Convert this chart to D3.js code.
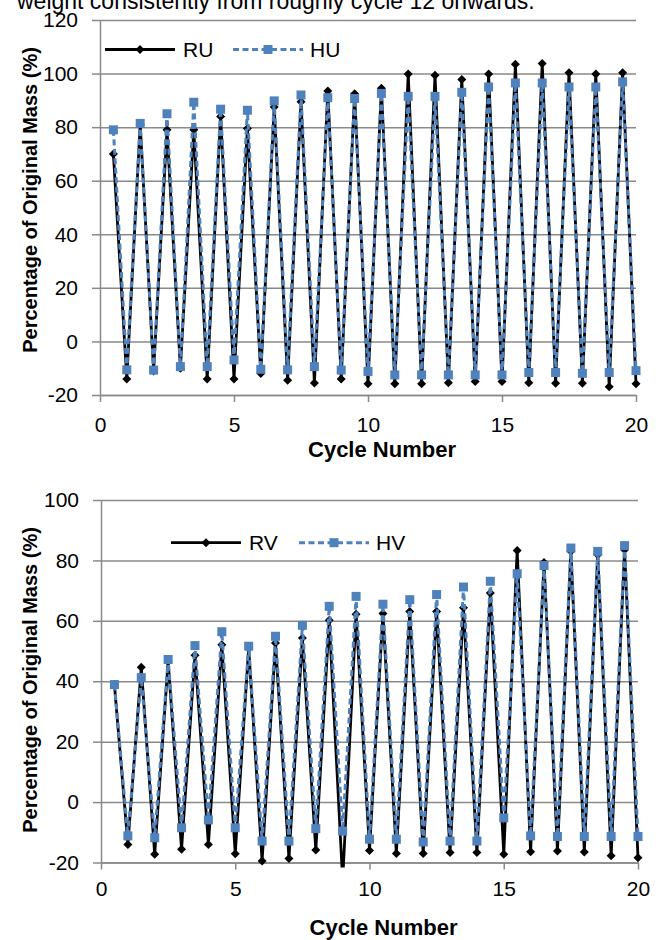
<!DOCTYPE html>
<html>
<head>
<meta charset="utf-8">
<script src="https://cdn.jsdelivr.net/npm/d3@7"></script>
<style>
  body { margin: 0; background: #fff; }
  svg { display: block; font-family: 'Liberation Sans', Arial, sans-serif; }
  .grid line { stroke: #8a8a8a; stroke-width: 1.5; }
  .grid .domain { display: none; }
  .axis path, .axis line { stroke: #8a8a8a; stroke-width: 1.5; }
  .axis text { font-size: 21px; fill: #000; font-family: 'Liberation Sans', Arial, sans-serif; }
</style>
</head>
<body>
<svg id="chart" width="659" height="940"></svg>
<script>
// cycle positions (half cycles: wet / dry readings)
const cycles = [0.5, 1, 1.5, 2, 2.5, 3, 3.5, 4, 4.5, 5, 5.5, 6, 6.5, 7, 7.5, 8, 8.5, 9, 9.5, 10,
  10.5, 11, 11.5, 12, 12.5, 13, 13.5, 14, 14.5, 15, 15.5, 16, 16.5, 17, 17.5, 18, 18.5, 19, 19.5, 20];

const ruMass = [70, -14, 81, -11, 79, -10, 79, -14, 84, -14, 79.5, -12, 87.5, -14.5, 89.5, -15.5, 93.5, -14, 92.5, -15.8,
  94.5, -15.8, 99.8, -15.8, 99.4, -15.4, 97.8, -15, 99.8, -15, 103.5, -15.4, 103.8, -15.6, 100.3, -15.6, 99.8, -16.9, 100.3, -15.8];
const huMass = [79, -10.6, 81.4, -10.7, 85, -9.4, 89.3, -9.4, 86.7, -6.9, 86.3, -10.4, 89.8, -10.6, 92, -9.4, 91, -10.7, 90.7, -11.2,
  92.6, -12.5, 91.5, -12.5, 91.5, -12.5, 93, -12.5, 95, -12.5, 96.5, -11.6, 96.5, -11.6, 95, -11.9, 95, -11.6, 96.9, -10.9];

const rvMass = [38.9, -14, 44.6, -17.3, 46.6, -15.6, 48.6, -14, 52.1, -17.1, 51, -19.5, 52.7, -18.7, 54.3, -15.9, 60.2, -26, 62.2, -16,
  62.4, -17, 63.1, -17, 63.1, -16.7, 64.3, -16.7, 69.2, -17.3, 83.3, -16.4, 79.3, -16.2, 83, -16.5, 81.9, -17.8, 83.5, -18.4];
const hvMass = [38.9, -11.2, 41.2, -11.8, 47.2, -8.5, 51.8, -5.9, 56.4, -8.5, 51.6, -12.9, 54.9, -12.9, 58.5, -8.8, 64.8, -9.6, 68.1, -12.3,
  65.5, -12.3, 67, -13.2, 68.7, -12.9, 71.2, -12.9, 73.1, -5.2, 75.6, -11.2, 78.3, -11.4, 84.1, -11.4, 83, -11.4, 84.9, -11.4];

const xTicks = [0, 5, 10, 15, 20];
const yTicksTop = [-20, 0, 20, 40, 60, 80, 100, 120];
const yTicksBottom = [-20, 0, 20, 40, 60, 80, 100];

const blue = '#4f81bd';
const svg = d3.select('#chart');

// tail of the paragraph above the figure, cut by the page edge
svg.append('text')
  .attr('x', 17)
  .attr('y', 9)
  .style('font-size', '23px')
  .text('weight consistently from roughly cycle 12 onwards.');

function diamond(r) {
  return 'M0,' + (-r) + 'L' + r + ',0L0,' + r + 'L' + (-r) + ',0Z';
}

function drawPanel(p, id) {
  const x = d3.scaleLinear().domain([0, 20]).range([p.left, p.right]);
  const y = d3.scaleLinear().domain(p.yDomain).range([p.bottom, p.top]);

  // gridlines
  svg.append('g')
    .attr('class', 'grid')
    .attr('transform', 'translate(' + p.left + ',0)')
    .call(d3.axisLeft(y).tickValues(p.yTicks).tickSize(-(p.right - p.left)).tickFormat(''));

  svg.append('g')
    .attr('class', 'axis')
    .attr('transform', 'translate(' + p.left + ',0)')
    .call(d3.axisLeft(y).tickValues(p.yTicks).tickSizeInner(8).tickSizeOuter(0).tickPadding(14)
      .tickFormat(d => String(d)));

  svg.append('g')
    .attr('class', 'axis')
    .attr('transform', 'translate(0,' + p.bottom + ')')
    .call(d3.axisBottom(x).tickValues(xTicks).tickSizeInner(7).tickSizeOuter(0).tickPadding(p.xPad)
      .tickFormat(d => String(d)));

  svg.selectAll('.axis text').attr('fill', '#000');

  // axis titles
  svg.append('text')
    .attr('text-anchor', 'middle')
    .attr('x', (p.left + p.right) / 2 + 14)
    .attr('y', p.xTitleY)
    .style('font-size', '22px')
    .style('font-weight', 'bold')
    .text('Cycle Number');

  svg.append('text')
    .attr('text-anchor', 'middle')
    .attr('transform', 'translate(36.5,' + p.yTitleY + ') rotate(-90)')
    .style('font-size', '20px')
    .style('font-weight', 'bold')
    .text('Percentage of Original Mass (%)');

  svg.append('clipPath')
    .attr('id', id)
    .append('rect')
    .attr('x', p.left - 6)
    .attr('y', p.top - 10)
    .attr('width', p.right - p.left + 12)
    .attr('height', p.bottom - p.top + 15);

  const plot = svg.append('g').attr('clip-path', 'url(#' + id + ')');
  const line = d3.line().x(d => x(d[0])).y(d => y(d[1]));

  // solid black series first, dashed blue on top
  const solid = d3.zip(cycles, p.solid);
  const dashed = d3.zip(cycles, p.dashed);

  plot.append('path')
    .datum(solid)
    .attr('d', line)
    .attr('fill', 'none')
    .attr('stroke', '#000')
    .attr('stroke-width', 2.8);

  plot.selectAll('.dia')
    .data(solid)
    .enter()
    .append('path')
    .attr('d', diamond(4.5))
    .attr('transform', d => 'translate(' + x(d[0]) + ',' + y(d[1]) + ')')
    .attr('fill', '#000');

  plot.append('path')
    .datum(dashed)
    .attr('d', line)
    .attr('fill', 'none')
    .attr('stroke', blue)
    .attr('stroke-width', 3)
    .attr('stroke-dasharray', '6,3.5');

  plot.selectAll('.sq')
    .data(dashed)
    .enter()
    .append('rect')
    .attr('x', d => x(d[0]) - 4.5)
    .attr('y', d => y(d[1]) - 4.5)
    .attr('width', 9)
    .attr('height', 9)
    .attr('fill', blue);

  // legend
  const lg = svg.append('g').attr('transform', 'translate(' + p.legendX + ',' + p.legendY + ')');
  lg.append('line').attr('x1', 0).attr('x2', 70).attr('stroke', '#000').attr('stroke-width', 2.8);
  lg.append('path').attr('d', diamond(4.5)).attr('transform', 'translate(35,0)');
  lg.append('text').attr('x', 78).attr('y', 7.5).style('font-size', '21px').text(p.names[0]);
  lg.append('line').attr('x1', 128).attr('x2', 198).attr('stroke', blue)
    .attr('stroke-width', 3).attr('stroke-dasharray', '6,3.5');
  lg.append('rect').attr('x', 158.5).attr('y', -4.5).attr('width', 9).attr('height', 9).attr('fill', blue);
  lg.append('text').attr('x', 205).attr('y', 7.5).style('font-size', '21px').text(p.names[1]);
}

drawPanel({
  left: 100, right: 636, top: 20, bottom: 395,
  yDomain: [-20, 120], yTicks: yTicksTop,
  solid: ruMass, dashed: huMass, names: ['RU', 'HU'],
  xPad: 15, xTitleY: 457, yTitleY: 200,
  legendX: 105, legendY: 49.5
}, 'clipTop');

drawPanel({
  left: 101, right: 638, top: 500, bottom: 862.5,
  yDomain: [-20, 100], yTicks: yTicksBottom,
  solid: rvMass, dashed: hvMass, names: ['RV', 'HV'],
  xPad: 12, xTitleY: 935, yTitleY: 680,
  legendX: 171, legendY: 542.7
}, 'clipBottom');
</script>
</body>
</html>
